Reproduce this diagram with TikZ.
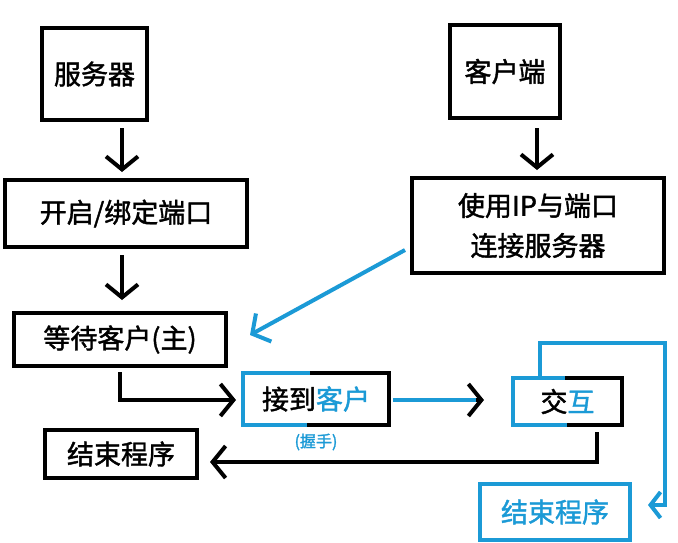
\documentclass[tikz,border=0pt]{standalone}
\usepackage{fontspec}
\setmainfont{Liberation Serif}
\newfontfamily\cjk{Noto Sans CJK SC}[FakeBold=1.5]
\usetikzlibrary{arrows.meta}
\definecolor{sky}{HTML}{1B9AD6}
\begin{document}
\begin{tikzpicture}[x=1pt,y=-1pt,
  box/.style={draw=black,line width=4pt,minimum width=#1,inner sep=0pt},
  txt/.style={font=\cjk\fontsize{27}{40}\selectfont,align=center},
  chev/.style={-{Straight Barb[length=13pt,width=32pt,line width=4pt]},line width=4pt},
  half/.style={line width=4pt}]
\useasboundingbox (0,0) rectangle (678,542);
\fill[white] (0,0) rectangle (678,542);
% black boxes
\node[box=105pt,minimum height=92pt,txt] (srv) at (94.5,74) {服务器};
\node[box=110pt,minimum height=93pt,txt] (cli) at (505,71.5) {客户端};
\node[box=242pt,minimum height=67pt,txt] (bind) at (126,213.5) {开启/绑定端口};
\node[box=252pt,minimum height=95pt,txt] (conn) at (538,225.5) {使用IP与端口\\连接服务器};
\node[box=212pt,minimum height=53pt,txt] (wait) at (120,339.5) {等待客户(主)};
\node[box=152pt,minimum height=48pt,txt] (end1) at (121,454) {结束程序};
% half boxes
\node[minimum width=146pt,minimum height=52pt,inner sep=0pt,txt] (acc) at (316,399) {接到\textcolor{sky}{客户}};
\draw[half,sky] (310,373)--(243,373)--(243,425)--(307,425);
\draw[half] (310,373)--(389,373)--(389,425)--(307,425);
\node[font=\cjk\fontsize{16}{18}\selectfont,text=sky] (hs) at (316,442) {(握手)};
\node[minimum width=109pt,minimum height=47pt,inner sep=0pt,txt] (inter) at (567.5,401.5) {交\textcolor{sky}{互}};
\draw[half,sky] (565,378)--(513,378)--(513,425)--(567,425);
\draw[half] (565,378)--(622,378)--(622,425)--(567,425);
\node[draw=sky,line width=4pt,minimum width=150pt,minimum height=56pt,inner sep=0pt,txt,text=sky,anchor=north west] (end2) at (478,482) {结束程序};
% arrows
\coordinate (a1) at (122,128); \coordinate (a2) at (122,172);
\draw[chev] (a1) -- (a2);
\coordinate (b1) at (537,128); \coordinate (b2) at (537,170);
\draw[chev] (b1) -- (b2);
\coordinate (c1) at (122,255); \coordinate (c2) at (122,300);
\draw[chev] (c1) -- (c2);
\coordinate (d1) at (405,250); \coordinate (d2) at (250,335);
\draw[chev,sky] (d1) -- (d2);
\coordinate (w1) at (120,372); \coordinate (w2) at (236,400);
\draw[chev] (w1) |- (w2);
\coordinate (e1) at (393,400); \coordinate (e2) at (484,400); \coordinate (e3) at (476,400);
\draw[line width=4pt,sky] (e1) -- (e3);
\draw[chev] (e3) -- (e2);
\coordinate (i1) at (597,432); \coordinate (i4) at (210,462);
\draw[chev] (i1) |- (i4);
\coordinate (i2) at (540,378);
\coordinate (i3) at (648,505);
\draw[half,sky,-{Straight Barb[length=10pt,width=26pt,line width=4pt]}] (i2) |- (665,343) |- (i3);
\end{tikzpicture}
\end{document}
